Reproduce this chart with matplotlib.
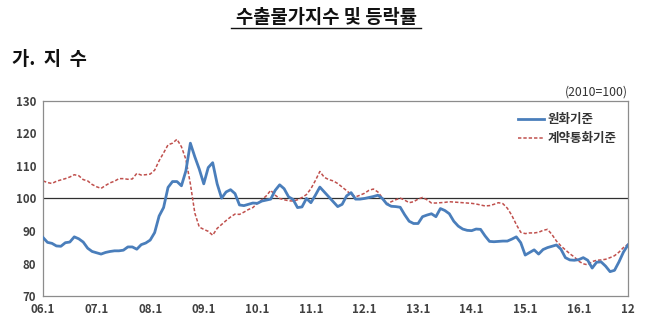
import numpy as np
import matplotlib
matplotlib.use("Agg")
from matplotlib import pyplot as plt
from matplotlib.lines import Line2D

plt.rcParams['font.family'] = ['Noto Sans CJK KR', 'DejaVu Sans']

# monthly index, 2006.1 ~ 2016.12 (2010=100)
won_basis = [
    88.0, 86.5, 86.2, 85.4, 85.3, 86.4, 86.6, 88.2, 87.6, 86.6, 84.7, 83.7,   # 2006
    83.3, 82.9, 83.4, 83.7, 83.9, 83.9, 84.1, 85.1, 85.1, 84.4, 85.8, 86.3,   # 2007
    87.2, 89.5, 94.6, 97.2, 103.4, 105.2, 105.2, 103.9, 108.5, 117.0, 112.8, 109.0,  # 2008
    104.5, 109.5, 111.0, 104.5, 100.1, 102.0, 102.7, 101.5, 98.0, 97.8, 98.2, 98.6,  # 2009
    98.5, 99.2, 99.5, 99.8, 102.5, 104.2, 103.0, 100.5, 99.7, 97.2, 97.4, 100.0,     # 2010
    98.7, 101.0, 103.5, 102.0, 100.5, 99.0, 97.5, 98.2, 100.8, 101.8, 99.8, 99.8,    # 2011
    100.0, 100.3, 100.6, 101.0, 100.0, 98.3, 97.6, 97.5, 97.3, 95.0, 93.0, 92.3,     # 2012
    92.3, 94.4, 94.9, 95.3, 94.4, 96.9, 96.3, 95.3, 93.0, 91.5, 90.6, 90.2,          # 2013
    90.1, 90.6, 90.5, 88.5, 86.8, 86.7, 86.8, 86.9, 86.9, 87.5, 88.2, 86.4,          # 2014
    82.6, 83.4, 84.2, 82.9, 84.3, 84.9, 85.3, 85.7, 84.4, 81.8, 81.1, 81.0,          # 2015
    81.2, 81.8, 81.0, 78.6, 80.4, 80.5, 79.2, 77.5, 77.9, 80.5, 83.5, 85.7,          # 2016
]
contract_basis = [
    105.4, 104.9, 104.6, 105.3, 105.7, 106.1, 106.6, 107.3, 107.0, 105.8, 105.4, 104.3,  # 2006
    103.6, 103.1, 104.0, 104.8, 105.3, 106.1, 106.1, 105.9, 106.0, 107.7, 107.2, 107.3,  # 2007
    107.5, 108.7, 111.6, 114.0, 116.5, 117.0, 118.2, 115.9, 112.0, 104.5, 95.5, 91.2,    # 2008
    90.5, 89.9, 88.7, 90.8, 92.0, 93.2, 94.3, 95.2, 95.1, 95.8, 96.6, 97.2,              # 2009
    98.5, 99.6, 100.8, 102.5, 101.0, 100.0, 99.6, 99.3, 99.2, 99.6, 100.3, 101.2,        # 2010
    103.0, 105.5, 108.3, 106.5, 105.8, 105.4, 104.6, 103.5, 102.4, 101.2, 100.5, 101.0,  # 2011
    101.6, 102.5, 102.9, 102.0, 100.2, 98.3, 99.0, 99.6, 100.1, 99.5, 98.7, 99.0,        # 2012
    99.8, 100.3, 99.6, 98.6, 98.6, 98.7, 98.8, 99.0, 98.9, 98.8, 98.7, 98.6,             # 2013
    98.5, 98.3, 98.0, 97.7, 97.8, 98.2, 98.7, 98.4, 97.0, 94.8, 92.0, 89.6,              # 2014
    89.2, 89.4, 89.4, 89.6, 90.2, 90.5, 88.9, 86.9, 85.4, 84.2, 83.0, 82.0,              # 2015
    80.7, 79.9, 79.6, 80.6, 81.0, 81.1, 81.3, 81.8, 82.4, 83.5, 84.9, 85.9,              # 2016
]
tick_labels = ['06.1', '07.1', '08.1', '09.1', '10.1', '11.1', '12.1',
               '13.1', '14.1', '15.1', '16.1', '12']
series_names = ['원화기준', '계약통화기준']

months = np.arange(len(won_basis))
tick_pos = list(range(0, 121, 12)) + [len(won_basis) - 1]

fig = plt.figure(figsize=(6.5, 3.33), dpi=100)
ax = fig.add_axes([0.0662, 0.111, 0.8998, 0.586])

ax.axhline(100, color='#303030', lw=0.9, zorder=1)
ax.plot(months, won_basis, color='#4A7EBB', lw=2.0, label=series_names[0],
        solid_joinstyle='round', zorder=3)
ax.plot(months, contract_basis, color='#C0504D', lw=1.1, ls=(0, (2.2, 1.3)),
        label=series_names[1], zorder=2)

ax.set_xlim(0, len(won_basis) - 1)
ax.set_ylim(70, 130)
ax.set_yticks(range(70, 131, 10))
ax.set_xticks(tick_pos)
ax.set_xticklabels(tick_labels)
ax.tick_params(length=0, labelsize=8.3, labelcolor='#404040', pad=5)
for lbl in ax.get_xticklabels() + ax.get_yticklabels():
    lbl.set_fontweight('bold')
for sp in ax.spines.values():
    sp.set_color('#8c8c8c')
    sp.set_linewidth(0.9)

leg = ax.legend(loc='upper right', frameon=False,
                handlelength=2.1, handletextpad=0.3, labelspacing=0.5,
                bbox_to_anchor=(1.0, 0.995), prop={'weight': 'bold', 'size': 9})
for t in leg.get_texts():
    t.set_color('#333333')

# headings
fig.text(0.503, 0.948, '수출물가지수 및 등락률', ha='center', va='center',
         fontsize=13.5, fontweight='bold', color='#111111')
fig.add_artist(Line2D([0.356, 0.648], [0.915, 0.915], color='#111111', lw=1.0))
fig.text(0.019, 0.822, '가.  지  수', ha='left', va='center',
         fontsize=13.5, fontweight='bold', color='#111111')
fig.text(0.966, 0.724, '(2010=100)', ha='right', va='center',
         fontsize=8.8, color='#333333')

fig.savefig('out.png', dpi=100)
